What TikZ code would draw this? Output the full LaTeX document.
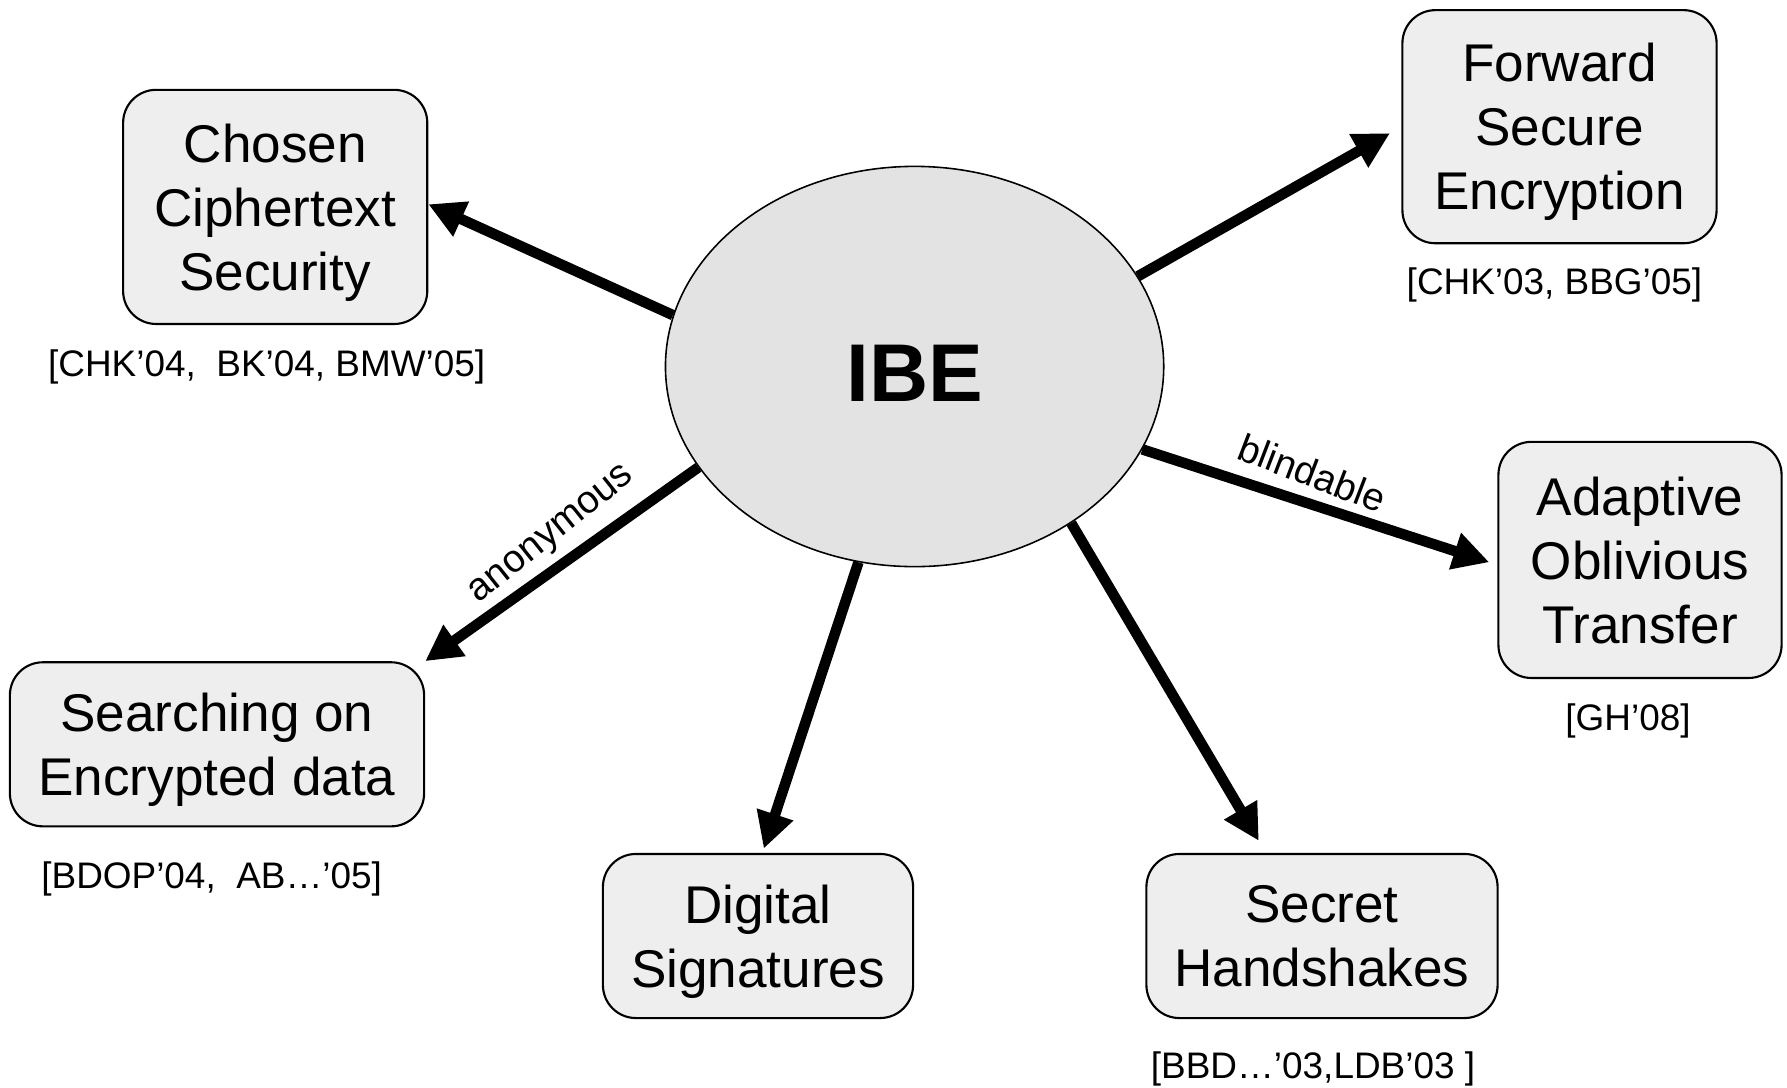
\documentclass[tikz,border=0pt]{standalone}
\usepackage{fontspec}
\setmainfont{Liberation Sans}
\usepackage{tikz}
\usetikzlibrary{shapes.geometric, arrows.meta, positioning}
\definecolor{ibe-gray}{RGB}{227,227,227}
\definecolor{box-gray}{RGB}{238,238,238}

\begin{document}
\begin{tikzpicture}[
    x=0.01cm, y=-0.01cm,
    box/.style={rectangle, draw=black, line width=0.6pt, fill=box-gray, rounded corners=0.33cm, align=center, inner sep=0pt, text depth=0pt, execute at begin node={\rule{0pt}{14.2pt}}, font=\fontsize{15.1}{18.2}\selectfont},
    core/.style={ellipse, draw=black, line width=0.45pt, fill=ibe-gray, minimum width=4.98cm, minimum height=4.0cm, inner sep=0pt, text height=20pt, text depth=0pt, font=\fontsize{23.3}{28}\selectfont\bfseries},
    cite/.style={inner sep=0pt, font=\fontsize{10.5}{12.6}\selectfont},
    tag/.style={inner sep=0pt, font=\fontsize{11}{13.2}\selectfont},
    arr/.style={-{Triangle[length=0.36cm, width=0.36cm]}, line width=0.105cm}
]
\useasboundingbox (0,0) rectangle (1787,1087);

% IBE in the middle
\node[core] (ibe) at (914.6,366.5) {IBE};

% upper row
\node[box, minimum width=3.04cm, minimum height=2.34cm] (ccs) at (275.2,206.9) {Chosen\\Ciphertext\\Security};
\node[cite, below=0.24cm of ccs, xshift=-0.085cm] (ccs-cite) {[CHK’04,\ \ BK’04, BMW’05]};

\node[box, minimum width=3.14cm, minimum height=2.33cm] (fse) at (1559.5,126.7) {Forward\\Secure\\Encryption};
\node[cite, below=0.23cm of fse, xshift=-0.05cm] (fse-cite) {[CHK’03, BBG’05]};

% right side
\node[box, minimum width=2.83cm, minimum height=2.36cm] (aot) at (1640,559.9) {Adaptive\\Oblivious\\Transfer};
\node[cite, below=0.24cm of aot, xshift=-0.12cm] (aot-cite) {[GH’08]};

% lower row
\node[box, minimum width=4.14cm, minimum height=1.64cm] (sed) at (217,744.3) {Searching on\\Encrypted data};
\node[cite, below=0.34cm of sed, xshift=-0.053cm] (sed-cite) {[BDOP’04,\ \ AB…’05]};

\node[box, minimum width=3.10cm, minimum height=1.64cm] (ds) at (758,936) {Digital\\Signatures};

\node[box, minimum width=3.51cm, minimum height=1.64cm] (sh) at (1322,936) {Secret\\Handshakes};
\node[cite, below=0.32cm of sh, xshift=-0.09cm] (sh-cite) {[BBD…’03,LDB’03\ ]};

% arrows out of IBE
\draw[arr] (ibe.168) -- (ccs.1.5);
\draw[arr, shorten >=0.13cm] (ibe.22.2) -- (fse.180.5);
\draw[arr, shorten >=0.085cm] (ibe.-20.8) -- (aot.182.3);
\draw[arr] (ibe.205.9) -- (sed.north east);
\draw[arr, shorten >=0.045cm] (ibe.254.5) -- (ds.87.2);
\draw[arr, shorten >=0.14cm] (ibe.-45.6) -- (sh.124.9);

% words on two of the arrows
\node[tag, rotate=-21] (blind-tag) at (1312.5,473) {blindable};
\node[tag, rotate=38.7] (anon-tag) at (553,536) {anonymous};

\end{tikzpicture}
\end{document}
